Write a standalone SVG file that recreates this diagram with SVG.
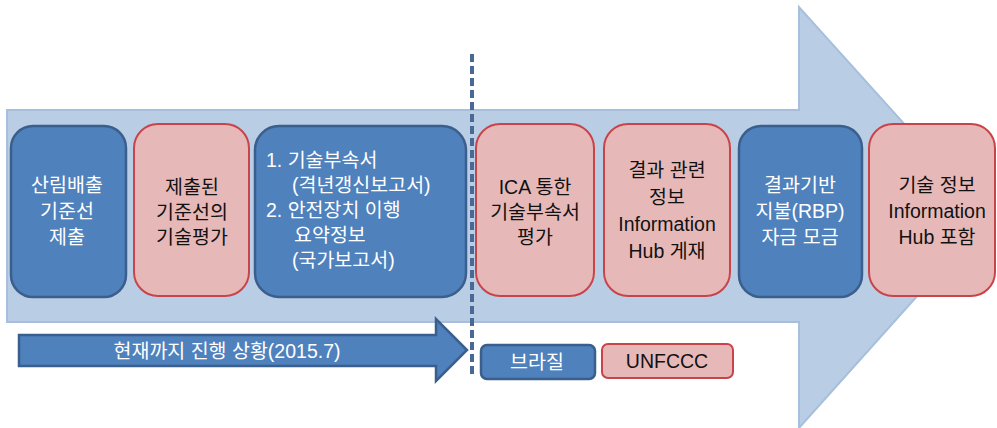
<svg xmlns="http://www.w3.org/2000/svg" width="997" height="428" viewBox="0 0 997 428">
<style>
.blue{fill:#4f81bd;stroke:#3b5f8c;stroke-width:2.5}
.pink{fill:#e6b9b8;stroke:#c9444a;stroke-width:2}
text{font-family:"Liberation Sans","Noto Sans CJK KR",sans-serif;font-size:19.5px;text-anchor:middle;dominant-baseline:central}
.w{fill:#ffffff}
.k{fill:#111111}
.l{text-anchor:start}
</style>
<rect width="997" height="428" fill="#ffffff"/>
<g id="big-arrow">
<path d="M7,110 H799 V7 L988,217 L799,428 V322 H7 Z" fill="#b9cde5" stroke="#a7bfdd" stroke-width="2"/>
</g>
<g id="connectors">
<path d="M19,335 H436 V319 L467,350 L436,381 V366 H19 Z" class="blue" stroke-width="2"/>
<line x1="472" y1="54" x2="472" y2="378" stroke="#4a6894" stroke-width="4" stroke-dasharray="8,4"/>
</g>
<g id="n1">
<rect x="11" y="126" width="115" height="171" rx="22" class="blue"/>
<text class="w" x="67" y="185">산림배출</text>
<text class="w" x="67" y="211">기준선</text>
<text class="w" x="67" y="237">제출</text>
</g>
<g id="n2">
<rect x="134" y="124" width="115" height="172" rx="24" class="pink"/>
<text class="k" x="192" y="187">제출된</text>
<text class="k" x="192" y="212">기준선의</text>
<text class="k" x="192" y="237">기술평가</text>
</g>
<g id="n3">
<rect x="255" y="126" width="211" height="171" rx="24" class="blue"/>
<text class="w l" x="266" y="160">1.  기술부속서</text>
<text class="w l" x="292" y="185">(격년갱신보고서)</text>
<text class="w l" x="266" y="210">2.  안전장치 이행</text>
<text class="w l" x="294" y="235">요약정보</text>
<text class="w l" x="292" y="260">(국가보고서)</text>
</g>
<g id="n4">
<rect x="476" y="124" width="118" height="172" rx="24" class="pink"/>
<text class="k" x="535" y="187">ICA 통한</text>
<text class="k" x="535" y="212">기술부속서</text>
<text class="k" x="535" y="237">평가</text>
</g>
<g id="n5">
<rect x="604" y="124" width="126" height="172" rx="24" class="pink"/>
<text class="k" x="667" y="170">결과 관련</text>
<text class="k" x="667" y="197">정보</text>
<text class="k" x="667" y="224">Information</text>
<text class="k" x="667" y="251">Hub 게재</text>
</g>
<g id="n6">
<rect x="739" y="126" width="123" height="171" rx="22" class="blue"/>
<text class="w" x="800" y="185">결과기반</text>
<text class="w" x="800" y="211">지불(RBP)</text>
<text class="w" x="800" y="237">자금 모금</text>
</g>
<g id="n7">
<rect x="869" y="124" width="126" height="172" rx="24" class="pink"/>
<text class="k" x="937" y="185">기술 정보</text>
<text class="k" x="937" y="211">Information</text>
<text class="k" x="937" y="237">Hub 포함</text>
</g>
<g id="progress-label">
<text class="w" x="227" y="351" font-size="18">현재까지 진행 상황(2015.7)</text>
</g>
<g id="legend-brazil">
<rect x="481" y="345" width="114" height="34" rx="6" class="blue" stroke-width="2"/>
<text class="w" x="537" y="362">브라질</text>
</g>
<g id="legend-unfccc">
<rect x="602" y="344" width="131" height="34" rx="6" class="pink"/>
<text class="k" x="667" y="361">UNFCCC</text>
</g>
</svg>
